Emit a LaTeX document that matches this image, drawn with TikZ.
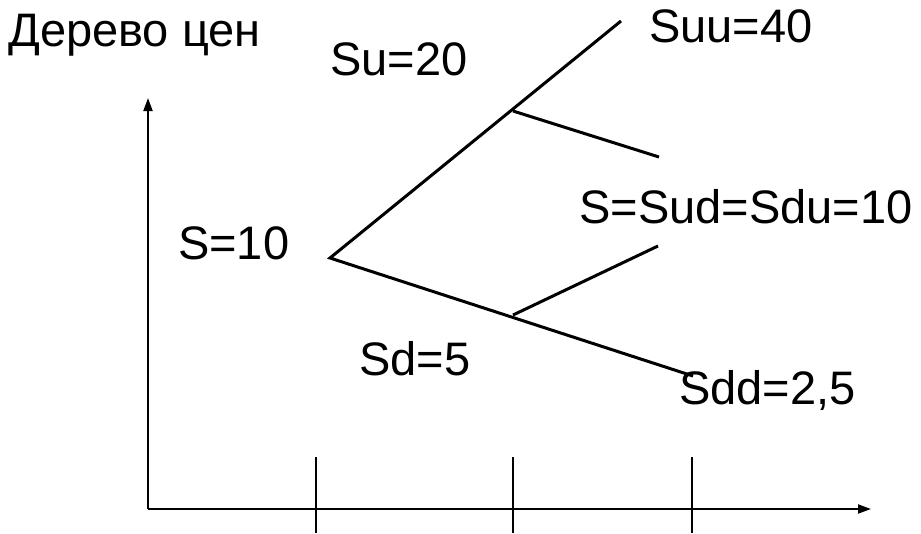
\documentclass[tikz,border=0pt]{standalone}
\usepackage{fontspec}
\setmainfont{Liberation Sans}
\usetikzlibrary{arrows.meta}
\begin{document}
\begin{tikzpicture}[x=1pt,y=-1pt,
  lbl/.style={anchor=base west,inner sep=0pt,font=\fontsize{47}{56}\selectfont},
  tree/.style={line width=3pt},
  axis/.style={line width=2pt,-{Triangle[length=13pt,width=9pt]}},
  tick/.style={line width=1.5pt}]
\useasboundingbox (0,0) rectangle (921,533);
% tree points
\coordinate (s0) at (330,258);
\coordinate (uu) at (621,21);
\coordinate (dd) at (693,376);
\coordinate (bu) at (513,111);
\coordinate (bue) at (659,157);
\coordinate (bd) at (513,315);
\coordinate (bde) at (658,246);
% axes
\coordinate (o) at (148,509);
\coordinate (ytop) at (148,98);
\coordinate (xend) at (871,509);
\draw[axis] (o) -- (ytop);
\draw[axis] (o) -- (xend);
\coordinate (t1a) at (316,457); \coordinate (t1b) at (316,533);
\coordinate (t2a) at (513,457); \coordinate (t2b) at (513,533);
\coordinate (t3a) at (692,457); \coordinate (t3b) at (692,533);
\draw[tick] (t1a) -- (t1b);
\draw[tick] (t2a) -- (t2b);
\draw[tick] (t3a) -- (t3b);
% tree
\draw[tree] (uu) -- (s0) -- (dd);
\draw[tree] (bu) -- (bue);
\draw[tree] (bd) -- (bde);
% labels
\node[lbl] (title) at (8,46) {Дерево цен};
\node[lbl] (su) at (330,75) {Su=20};
\node[lbl] (suu) at (649,42) {Suu=40};
\node[lbl] (sm) at (579,223) {S=Sud=Sdu=10};
\node[lbl] (s) at (178,259) {S=10};
\node[lbl] (sd) at (359,375) {Sd=5};
\node[lbl] (sdd) at (679,404) {Sdd=2,5};
\end{tikzpicture}
\end{document}
